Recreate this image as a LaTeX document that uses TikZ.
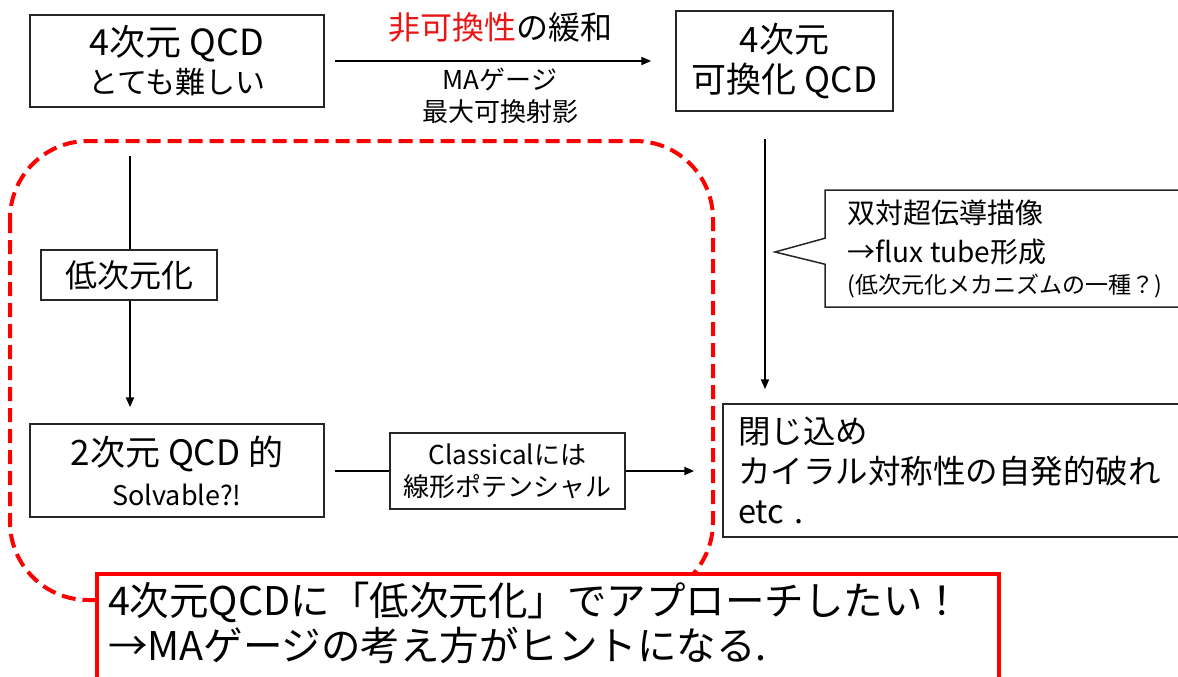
\documentclass[tikz,border=0pt]{standalone}
\usepackage{fontspec}
\setmainfont{Noto Sans CJK JP}
\usetikzlibrary{arrows.meta,shapes.callouts}
\definecolor{hred}{RGB}{235,20,20}
\begin{document}
\begin{tikzpicture}[x=1pt,y=-1pt,
  box/.style={draw=black!85,line width=1.5pt,fill=white,inner sep=0pt,align=center},
  arr/.style={line width=2pt,-{Triangle[length=10pt,width=8pt]}},
  ln/.style={line width=2pt},
  lbl/.style={inner sep=0pt,align=center}]
\useasboundingbox (0,0) rectangle (1178,677);
\clip (0,0) rectangle (1178,677);

% dashed frame
\draw[red,line width=4pt,dash pattern=on 14pt off 7pt,rounded corners=78pt] (10,141) rectangle (713,600);

\node[box,minimum width=294pt,minimum height=92pt,font=\fontsize{36}{38}\selectfont] (A) at (177,61)
  {4次元 QCD\\{\fontsize{30}{38}\selectfont とても難しい}};
\node[box,minimum width=217pt,minimum height=100pt,font=\fontsize{35}{40}\selectfont] (B) at (784.5,61)
  {4次元\\可換化 QCD};

\draw[arr,shorten <=10pt,shorten >=24pt] (A) -- (B);
\node[lbl,font=\fontsize{32}{36}\selectfont] (t1) at (500,28) {\textcolor{hred}{非可換性}の緩和};
\node[lbl,font=\fontsize{26}{32}\selectfont] (t2) at (500,96) {MAゲージ\\最大可換射影};

\node[rectangle callout,draw=black!85,line width=1.5pt,fill=white,
  callout absolute pointer={(775,252)},callout pointer width=26pt,
  minimum width=360pt,minimum height=117pt,inner sep=0pt,
  align=left,font=\fontsize{28}{39}\selectfont] (CO) at (1005,248.5)
  {双対超伝導描像\\→flux tube形成\\[-8pt]{\fontsize{23}{30}\selectfont (低次元化メカニズムの一種？)}};

\node[box,minimum width=462pt,minimum height=133pt,text width=432pt,inner xsep=15pt,
  align=left,font=\fontsize{32.5}{40}\selectfont] (C) at (954,470.5)
  {閉じ込め\\カイラル対称性の自発的破れ\\etc .};

\coordinate (rx) at (765,0);
\draw[arr,shorten <=27pt,shorten >=14pt] (B.south -| rx) -- (C.north -| rx);

\node[box,minimum width=176pt,minimum height=50pt,font=\fontsize{32}{36}\selectfont] (L) at (129,275) {低次元化};
\node[box,minimum width=294pt,minimum height=93pt,font=\fontsize{35}{40}\selectfont] (D) at (177,470.5)
  {2次元 QCD 的\\{\fontsize{27}{40}\selectfont Solvable?!}};
\node[box,minimum width=235pt,minimum height=76pt,font=\fontsize{26}{32}\selectfont] (Cl) at (507.5,471)
  {Classicalには\\線形ポテンシャル};

\coordinate (lx) at (130,0);
\draw[ln,shorten <=48pt] (A.south -| lx) -- (L.north -| lx);
\draw[arr,shorten >=16pt] (L.south -| lx) -- (D.north -| lx);
\draw[ln,shorten <=10pt] (D.east |- Cl.west) -- (Cl.west);
\draw[arr,shorten >=28pt] (Cl.east) -- (Cl.east -| C.west);

\node[draw=red,line width=4pt,fill=white,anchor=north west,text width=880pt,inner xsep=11pt,inner ysep=8pt,
  text depth=80pt,align=left,font=\fontsize{39.5}{45}\selectfont] (R) at (95,572)
  {4次元QCDに「低次元化」でアプローチしたい！\\→MAゲージの考え方がヒントになる.};
\end{tikzpicture}
\end{document}
